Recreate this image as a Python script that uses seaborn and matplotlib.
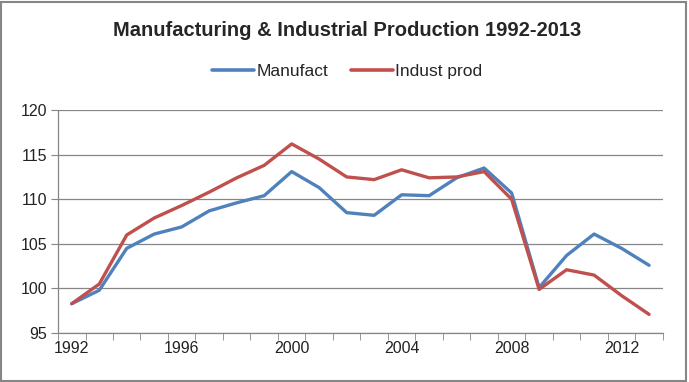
import numpy as np
import pandas as pd
import matplotlib
matplotlib.use("Agg")
import matplotlib.pyplot as plt
import seaborn as sns
from matplotlib.patches import Rectangle

# data
years = list(range(1992, 2014))
manufact = [98.3, 99.8, 104.5, 106.1, 106.9, 108.7, 109.6, 110.4, 113.1, 111.3, 108.5,
            108.2, 110.5, 110.4, 112.4, 113.5, 110.7, 100.1, 103.7, 106.1, 104.5, 102.6]
indust_prod = [98.3, 100.5, 106.0, 107.9, 109.3, 110.8, 112.4, 113.8, 116.2, 114.5, 112.5,
               112.2, 113.3, 112.4, 112.5, 113.1, 110.0, 99.9, 102.1, 101.5, 99.2, 97.1]
series_names = ["Manufact", "Indust prod"]
colors = ["#4F81BD", "#C0504D"]
title = "Manufacturing & Industrial Production 1992-2013"

df = pd.DataFrame({"Year": years * 2,
                   "Value": manufact + indust_prod,
                   "Series": [series_names[0]] * len(years) + [series_names[1]] * len(years)})

sns.set_style("white")
plt.rcParams["font.family"] = ["Liberation Sans", "DejaVu Sans"]

fig = plt.figure(figsize=(6.89, 3.82), dpi=100)
ax = fig.add_axes([0.0842, 0.128, 0.962 - 0.0842, 0.712 - 0.128])

sns.lineplot(data=df, x="Year", y="Value", hue="Series", palette=colors,
             linewidth=2.4, ax=ax, legend=False)

ax.set_xlim(1991.5, 2013.5)
ax.set_ylim(95, 120)
ax.set_yticks(np.arange(95, 121, 5))
ax.set_xticks([1992, 1996, 2000, 2004, 2008, 2012])
ax.set_xticks(np.arange(1991.5, 2014, 1), minor=True)
ax.tick_params(axis="x", which="major", length=0, pad=6, labelsize=11.5, labelcolor="#222222")
ax.tick_params(axis="x", which="minor", length=5, color="#868686", direction="out", bottom=True)
ax.tick_params(axis="y", length=5, color="#868686", direction="out", left=True,
               labelsize=11.5, labelcolor="#222222", pad=3)
ax.set_xlabel("")
ax.set_ylabel("")
ax.grid(axis="y", color="#868686", linewidth=0.9)
ax.grid(axis="x", visible=False)
ax.set_axisbelow(True)
for side in ["top", "right"]:
    ax.spines[side].set_visible(False)
for side in ["left", "bottom"]:
    ax.spines[side].set_color("#868686")
    ax.spines[side].set_linewidth(0.9)

fig.text(0.504, 0.92, title, ha="center", va="center", fontsize=14.5, fontweight="bold")

handles = [plt.Line2D([], [], color=c, linewidth=2.6) for c in colors]
fig.legend(handles, series_names, loc="center", bbox_to_anchor=(0.504, 0.812), ncol=2,
           frameon=False, fontsize=12.5, handlelength=2.4, handletextpad=0.15, columnspacing=1.3)

fig.add_artist(Rectangle((0.002, 0.003), 0.993, 0.993, transform=fig.transFigure,
                         fill=False, edgecolor="#868686", linewidth=1.5))

fig.savefig("out.png", dpi=100)
